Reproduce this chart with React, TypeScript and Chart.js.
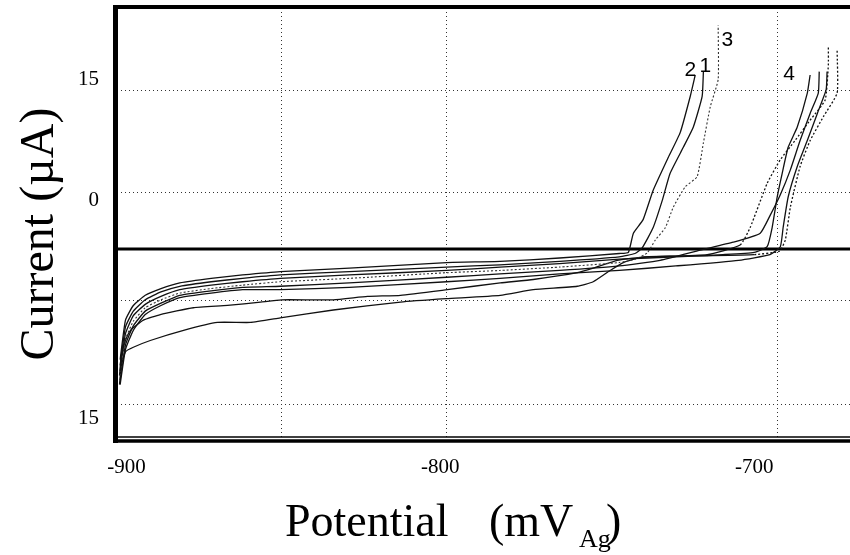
import React, { useEffect, useRef } from "react";
import { Chart, registerables } from "chart.js";

Chart.register(...registerables);

// Axis ticks (as printed on the figure)
const xTickValues = [-900, -800, -700];
const xTickLabels = ["-900", "-800", "-700"];
const yTickValues = [15, 4.3, -15];
const yTickLabels = ["15", "0", "15"];
const xGridValues = [-850.6, -798.1, -692.7];
const yGridValues = [14.1, 5.0, -4.5, -13.7];

// Shared plateau potentials (mV) for the upper bundle of curves
const plateauV = [-902, -900.3, -897.8, -894, -889, -883, -873, -863, -851, -829, -798, -781, -762, -743];
// Plateau currents (µA)
const plateau1 = [-9.8, -6.3, -5.0, -4.1, -3.5, -3.0, -2.6, -2.3, -2.0, -1.7, -1.2, -1.1, -0.8, -0.4];
const plateau2 = [-10.3, -6.9, -5.5, -4.5, -3.8, -3.3, -2.9, -2.6, -2.3, -2.0, -1.6, -1.4, -1.1, -0.7];
const plateau3 = [-10.8, -7.5, -5.9, -4.9, -4.2, -3.6, -3.2, -2.9, -2.6, -2.3, -1.9, -1.6, -1.3, -0.9];
const plateau4 = [-11.2, -8.0, -6.4, -5.2, -4.5, -3.9, -3.5, -3.2, -2.9, -2.6, -2.1, -1.9, -1.6, -1.2];
const plateau5 = [-11.6, -8.5, -6.8, -5.5, -4.8, -4.1, -3.7, -3.4, -3.3, -3.0, -2.5, -2.2, -1.9, -1.5];
const plateau6 = [-12.0, -8.9, -7.2, -5.8, -5.0, -4.3, -3.9, -3.6, -3.6, -3.4, -2.9, -2.6, -2.2, -1.9];

// Two lowest cathodic curves
const low1V = [-902.2, -901.6, -900.3, -897.8, -892.4, -881.8, -871.0, -860.5, -851.0, -834.1, -812.7, -798.1, -780.9, -770.4, -756.4, -751.3, -745.9, -741.7, -735.4];
const low1I = [-12.0, -10.3, -9.1, -8.7, -8.1, -7.2, -6.5, -6.5, -6.1, -5.4, -4.7, -4.4, -4.1, -3.6, -3.3, -2.9, -1.9, -1.2, -0.7];
const low2V = [-902.2, -901.6, -900.3, -898.7, -894.6, -889.2, -878.7, -867.8, -857.3, -850.6, -834.1, -823.2, -812.7, -797.8, -780.9, -770.4, -756.4, -751.3, -743.6, -733.1];
const low2I = [-11.2, -9.4, -8.1, -7.2, -6.3, -5.8, -5.2, -5.0, -4.7, -4.5, -4.5, -4.2, -4.1, -3.6, -3.0, -2.7, -2.1, -1.7, -1.0, -0.7];

// Anodic rises
const rise2V = [-740.1, -738.5, -735.4, -732.2, -727.4, -723.6, -720.4, -718.8];
const rise2I = [-0.3, 1.4, 2.6, 5.2, 8.1, 10.3, 13.5, 15.4];
const rise1V = [-738, -735.7, -732.2, -729.3, -726.8, -722.6, -719.4, -716.6, -716.2];
const rise1I = [-0.4, 0.1, 1.9, 4.3, 6.7, 9.0, 10.8, 13.5, 15.7];
const rise3V = [-738, -734.1, -731.5, -728.3, -725.8, -722.0, -718.2, -716.2, -714.0, -711.5, -711.5];
const rise3I = [-0.9, -0.35, 0.8, 1.9, 3.7, 5.5, 6.4, 9.4, 12.6, 15.0, 19.8];
const rise4V = [-725, -710, -700, -695.9, -694.3, -692.7, -691.1, -689.2, -686.3, -683.1, -682.2];
const rise4I = [-0.7, -0.5, -0.3, 0.2, 1.9, 4.6, 6.7, 9.0, 10.8, 13.8, 15.4];
const rise5V = [-730, -717.2, -706.7, -698.1, -694.9, -691.7, -688.5, -685.4, -682.2, -679.6, -679.3];
const rise5I = [-1.0, -0.1, 0.6, 1.4, 3.0, 4.8, 7.0, 9.6, 12.0, 13.8, 15.7];
const rise6V = [-725, -705, -695, -691.7, -690.8, -689.2, -686.3, -683.1, -679.9, -677.1, -676.8];
const rise6I = [-1.5, -1.0, -0.5, 0.2, 1.9, 4.6, 7.3, 9.6, 12.0, 14.1, 15.7];
const rise7V = [-715, -704.5, -701.3, -695.9, -691.7, -687.0, -682.2, -677.4, -676.4, -676.4];
const rise7I = [-0.5, 0.35, 1.9, 5.8, 7.9, 9.6, 11.4, 13.2, 16.3, 17.9];
const rise8V = [-715, -700, -692, -690.1, -688.5, -685.4, -682.2, -678.0, -673.6, -673.6];
const rise8I = [-0.6, -0.5, -0.2, 0.8, 3.7, 7.3, 9.6, 11.7, 13.8, 17.6];

// Curve labels
const curveLabels = ["2", "1", "3", "4"];
const curveLabelV = [-720.4, -715.6, -708.6, -688.9];
const curveLabelI = [15.8, 16.2, 18.5, 15.5];

const pts = (vs: number[], is: number[]) => vs.map((v, i) => ({ x: v, y: is[i] }));

const SERIF = "'Liberation Serif', 'Times New Roman', serif";

export default function App() {
  const ref = useRef<HTMLCanvasElement | null>(null);

  useEffect(() => {
    document.body.style.margin = "0";
    const canvas = ref.current;
    if (!canvas) return;

    const solid = (data: any[]) => ({
      data,
      showLine: true,
      borderColor: "#111",
      borderWidth: 1.3,
      pointRadius: 0,
      tension: 0.15,
      fill: false,
    });
    const dotted = (data: any[]) => ({ ...solid(data), borderDash: [2, 2], borderWidth: 1.1, borderColor: "#333" });
    const dottedRise = (data: any[]) => ({
      ...solid(data),
      segment: { borderDash: (ctx: any) => (ctx.p0.parsed.x > -712 ? [2, 2] : undefined) },
    });

    const datasets: any[] = [
      solid(pts([...plateauV, ...rise2V], [...plateau1, ...rise2I])),
      solid(pts([...plateauV, ...rise1V], [...plateau2, ...rise1I])),
      solid(pts([...plateauV, ...rise4V], [...plateau3, ...rise4I])),
      dotted(pts([...plateauV, ...rise3V], [...plateau4, ...rise3I])),
      solid(pts([...plateauV, ...rise5V], [...plateau5, ...rise5I])),
      solid(pts([...plateauV, ...rise6V], [...plateau6, ...rise6I])),
      dottedRise(pts([...low2V, ...rise7V], [...low2I, ...rise7I])),
      dottedRise(pts([...low1V, ...rise8V], [...low1I, ...rise8I])),
    ];

    const decor = {
      id: "decor",
      beforeDatasetsDraw(chart: any) {
        const { ctx, chartArea: a, scales } = chart;
        const x = scales.x, y = scales.y;
        ctx.save();
        ctx.strokeStyle = "#333";
        ctx.lineWidth = 1;
        ctx.setLineDash([1, 3]);
        xGridValues.forEach((v) => {
          const px = Math.round(x.getPixelForValue(v)) + 0.5;
          ctx.beginPath();
          ctx.moveTo(px, a.top);
          ctx.lineTo(px, a.bottom);
          ctx.stroke();
        });
        yGridValues.forEach((v) => {
          const py = Math.round(y.getPixelForValue(v)) + 0.5;
          ctx.beginPath();
          ctx.moveTo(a.left, py);
          ctx.lineTo(a.right, py);
          ctx.stroke();
        });
        ctx.setLineDash([]);
        // zero current line
        const y0 = y.getPixelForValue(0);
        ctx.strokeStyle = "#000";
        ctx.lineWidth = 3;
        ctx.beginPath();
        ctx.moveTo(a.left - 4, y0);
        ctx.lineTo(a.right, y0);
        ctx.stroke();
        ctx.restore();
      },
      afterDatasetsDraw(chart: any) {
        const { ctx, chartArea: a, scales } = chart;
        ctx.save();
        ctx.strokeStyle = "#000";
        // left frame
        ctx.lineWidth = 5;
        ctx.beginPath();
        ctx.moveTo(a.left - 1.5, a.top - 3);
        ctx.lineTo(a.left - 1.5, a.bottom + 5);
        ctx.stroke();
        // top frame
        ctx.lineWidth = 4;
        ctx.beginPath();
        ctx.moveTo(a.left - 4, a.top - 1);
        ctx.lineTo(a.right, a.top - 1);
        ctx.stroke();
        // bottom frame (double)
        ctx.lineWidth = 1.5;
        ctx.beginPath();
        ctx.moveTo(a.left, a.bottom - 1);
        ctx.lineTo(a.right, a.bottom - 1);
        ctx.stroke();
        ctx.lineWidth = 3.5;
        ctx.beginPath();
        ctx.moveTo(a.left - 4, a.bottom + 3);
        ctx.lineTo(a.right, a.bottom + 3);
        ctx.stroke();
        // curve labels
        ctx.fillStyle = "#000";
        ctx.font = "21px 'Liberation Sans', Arial, sans-serif";
        ctx.textAlign = "center";
        ctx.textBaseline = "middle";
        curveLabels.forEach((t, i) => {
          ctx.fillText(t, scales.x.getPixelForValue(curveLabelV[i]), scales.y.getPixelForValue(curveLabelI[i]));
        });
        ctx.restore();
      },
      afterDraw(chart: any) {
        const { ctx } = chart;
        ctx.save();
        ctx.fillStyle = "#000";
        // y title
        ctx.translate(40, 234);
        ctx.rotate(-Math.PI / 2);
        ctx.font = `48px ${SERIF}`;
        ctx.textAlign = "center";
        ctx.textBaseline = "middle";
        ctx.fillText("Current (\u00B5A)", 0, 0);
        ctx.restore();
        // x title with subscript
        ctx.save();
        ctx.fillStyle = "#000";
        ctx.textBaseline = "alphabetic";
        ctx.textAlign = "left";
        ctx.font = `46px ${SERIF}`;
        const base = 536;
        ctx.fillText("Potential", 285, base);
        ctx.fillText("(mV", 489, base);
        ctx.font = `26px ${SERIF}`;
        ctx.fillText("Ag", 579, base + 11);
        ctx.font = `46px ${SERIF}`;
        ctx.fillText(")", 606, base);
        ctx.restore();
      },
    };

    const chart = new Chart(canvas, {
      type: "scatter",
      data: { datasets },
      options: {
        animation: false,
        responsive: true,
        maintainAspectRatio: false,
        layout: { padding: { top: 8, right: 0, bottom: 0, left: 0 }, autoPadding: false },
        plugins: { legend: { display: false }, tooltip: { enabled: false } },
        scales: {
          x: {
            type: "linear",
            min: -903,
            max: -669.5,
            afterBuildTicks: (s: any) => {
              s.ticks = xTickValues.map((v) => ({ value: v }));
            },
            afterFit: (s: any) => {
              s.height = 117;
              s.paddingLeft = 0;
              s.paddingRight = 0;
              s.paddingTop = 0;
              s.paddingBottom = 0;
            },
            grid: { display: false, drawTicks: false },
            border: { display: false },
            ticks: {
              color: "#000",
              padding: 17,
              maxRotation: 0,
              autoSkip: false,
              font: { family: SERIF, size: 21 },
              callback: (v: any) => {
                const i = xTickValues.indexOf(Number(v));
                return i >= 0 ? xTickLabels[i] : "";
              },
            },
          },
          y: {
            type: "linear",
            min: -16.73,
            max: 21.33,
            afterBuildTicks: (s: any) => {
              s.ticks = yTickValues.map((v) => ({ value: v }));
            },
            afterFit: (s: any) => {
              s.width = 117;
              s.paddingLeft = 0;
              s.paddingRight = 0;
              s.paddingTop = 0;
              s.paddingBottom = 0;
            },
            grid: { display: false, drawTicks: false },
            border: { display: false },
            ticks: {
              color: "#000",
              padding: 18,
              autoSkip: false,
              font: { family: SERIF, size: 21 },
              callback: (v: any) => {
                const i = yTickValues.indexOf(Number(v));
                return i >= 0 ? yTickLabels[i] : "";
              },
            },
          },
        },
      },
      plugins: [decor],
    });
    return () => chart.destroy();
  }, []);

  return (
    <div style={{ width: 850, height: 555, position: "relative", background: "#fff" }}>
      <canvas ref={ref} />
    </div>
  );
}
